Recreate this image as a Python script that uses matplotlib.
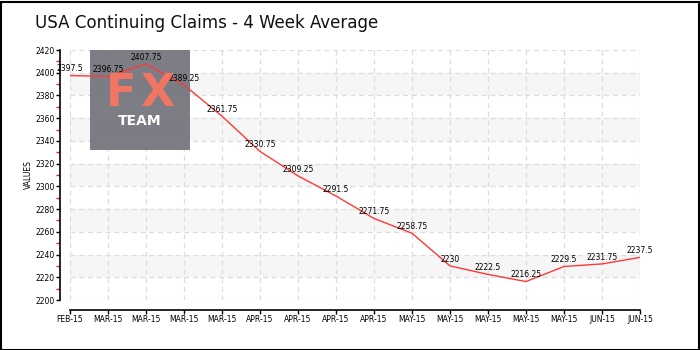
import matplotlib
matplotlib.use("Agg")
import matplotlib.pyplot as plt
from matplotlib.patches import Rectangle
from matplotlib.ticker import MultipleLocator

# Weekly values of the 4-week moving average (thousands)
months = ["FEB-15", "MAR-15", "MAR-15", "MAR-15", "MAR-15",
          "APR-15", "APR-15", "APR-15", "APR-15",
          "MAY-15", "MAY-15", "MAY-15", "MAY-15", "MAY-15",
          "JUN-15", "JUN-15"]
values = [2397.5, 2396.75, 2407.75, 2389.25, 2361.75, 2330.75, 2309.25,
          2291.5, 2271.75, 2258.75, 2230, 2222.5, 2216.25, 2229.5,
          2231.75, 2237.5]
value_labels = ["2397.5", "2396.75", "2407.75", "2389.25", "2361.75",
                "2330.75", "2309.25", "2291.5", "2271.75", "2258.75",
                "2230", "2222.5", "2216.25", "2229.5", "2231.75", "2237.5"]

W, H = 700, 350
fig = plt.figure(figsize=(7, 3.5), dpi=100)
ax = fig.add_axes([70 / W, 1 - 300 / H, 570 / W, 250 / H])

x = list(range(len(values)))
ax.set_xlim(0, len(values) - 1)
ax.set_ylim(2200, 2420)

# alternating horizontal bands
for lo in range(2220, 2420, 40):
    ax.axhspan(lo, lo + 20, color="#f6f6f6", zorder=0, lw=0)

ax.grid(True, which="major", color="#dddddd", linestyle=(0, (4, 3)), lw=0.9, zorder=1)

# watermark block
logo = Rectangle((90 / W, 1 - 150 / H), 100 / W, 100 / H,
                 transform=fig.transFigure, facecolor="#76767e", alpha=0.95,
                 edgecolor="none", zorder=2)
ax.add_patch(logo)
logo.set_clip_on(False)
fig.text(121 / W, 1 - 94 / H, "F", color="#f07563", fontsize=32,
         fontweight="bold", ha="center", va="center", zorder=3)
fig.text(157 / W, 1 - 94 / H, "X", color="#f07563", fontsize=32,
         fontweight="bold", ha="center", va="center", zorder=3)
fig.text(140 / W, 1 - 121 / H, "TEAM", color="white", fontsize=10,
         fontweight="bold", ha="center", va="center", zorder=3)

ax.plot(x, values, color="#ff3838", lw=1.0, zorder=4)
for xi, v, lab in zip(x, values, value_labels):
    ax.annotate(lab, (xi, v), xytext=(0, 1.5), textcoords="offset points",
                ha="center", va="bottom", fontsize=5.5, color="black",
                zorder=5, annotation_clip=False)

ax.set_xticks(x)
ax.set_xticklabels(months)
ax.yaxis.set_major_locator(MultipleLocator(20))
ax.yaxis.set_minor_locator(MultipleLocator(10))

for s in ("top", "right"):
    ax.spines[s].set_visible(False)
ax.spines["left"].set_position(("outward", 7))
ax.spines["bottom"].set_position(("outward", 7))
ax.spines["left"].set_linewidth(1.2)
ax.spines["bottom"].set_linewidth(1.2)

ax.tick_params(axis="both", which="major", labelsize=5.5, length=3,
               width=1, color="black", pad=1)
ax.tick_params(axis="y", which="minor", length=3, width=1, color="#e02020")

ax.set_ylabel("VALUES", fontsize=5.5, labelpad=2)

fig.text(35 / W, 1 - 23 / H, "USA Continuing Claims - 4 Week Average",
         fontsize=13.3, family="DejaVu Sans", fontstretch="condensed",
         ha="left", va="center", color="#111111")

# outer frame
fig.patches.append(Rectangle((0.5 / W, 0.5 / H), 1 - 2 / W, 1 - 2 / H,
                             transform=fig.transFigure, fill=False,
                             edgecolor="black", lw=1.5))

fig.savefig("out.png", dpi=100)
